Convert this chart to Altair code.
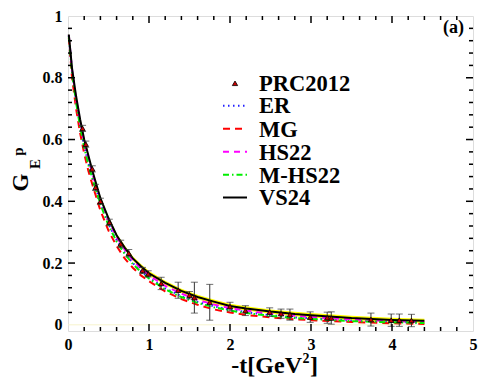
import altair as alt
import pandas as pd

FONT = "'Liberation Serif', 'Times New Roman', 'DejaVu Serif', serif"
W, H = 405, 315
TOP = 8

# ---- curve grid (-t in GeV^2) and model curves ----
t_grid = [0.01, 0.05, 0.1, 0.15, 0.2, 0.25, 0.3, 0.4, 0.5, 0.6, 0.7, 0.8, 0.9, 1.0,
          1.2, 1.4, 1.6, 1.8, 2.0, 2.2, 2.5, 2.8, 3.0, 3.5, 4.0, 4.4]
vs24 = [0.940, 0.830, 0.740, 0.665, 0.600, 0.550, 0.500, 0.410, 0.345, 0.290, 0.250, 0.215, 0.190, 0.167,
        0.136, 0.110, 0.090, 0.075, 0.061, 0.053, 0.043, 0.035, 0.031, 0.022, 0.016, 0.013]
vs24_lo = [0.936, 0.825, 0.734, 0.659, 0.594, 0.544, 0.494, 0.404, 0.339, 0.284, 0.243, 0.208, 0.183, 0.160,
           0.129, 0.103, 0.083, 0.068, 0.054, 0.046, 0.036, 0.028, 0.024, 0.015, 0.009, 0.006]
vs24_hi = [0.944, 0.835, 0.746, 0.671, 0.606, 0.556, 0.506, 0.416, 0.351, 0.296, 0.257, 0.222, 0.197, 0.174,
           0.143, 0.117, 0.097, 0.082, 0.068, 0.060, 0.050, 0.042, 0.038, 0.029, 0.023, 0.020]
er = [0.936, 0.820, 0.725, 0.645, 0.580, 0.525, 0.480, 0.395, 0.327, 0.274, 0.233, 0.200, 0.174, 0.152,
      0.118, 0.093, 0.074, 0.060, 0.049, 0.041, 0.031, 0.024, 0.021, 0.014, 0.009, 0.007]
mg = [0.930, 0.800, 0.700, 0.620, 0.555, 0.500, 0.455, 0.370, 0.305, 0.255, 0.215, 0.185, 0.160, 0.141,
      0.108, 0.083, 0.065, 0.050, 0.040, 0.032, 0.024, 0.018, 0.015, 0.009, 0.005, 0.003]
hs22 = [0.938, 0.825, 0.730, 0.655, 0.590, 0.538, 0.490, 0.402, 0.337, 0.284, 0.243, 0.209, 0.183, 0.160,
        0.126, 0.101, 0.081, 0.066, 0.054, 0.046, 0.036, 0.029, 0.025, 0.017, 0.012, 0.009]
mhs22 = [0.935, 0.815, 0.720, 0.640, 0.575, 0.520, 0.475, 0.390, 0.322, 0.270, 0.230, 0.197, 0.171, 0.150,
         0.115, 0.090, 0.071, 0.057, 0.046, 0.038, 0.029, 0.022, 0.019, 0.012, 0.008, 0.006]

# ---- PRC2012 data points ----
pt_t = [0.18, 0.22, 0.30, 0.34, 0.40, 0.51, 0.65, 0.75, 0.92, 0.99, 1.15, 1.36, 1.50, 1.56, 1.75,
        2.00, 2.19, 2.49, 2.63, 2.74, 2.99, 3.20, 3.25, 3.74, 3.99, 4.09, 4.24]
pt_v = [0.636, 0.585, 0.505, 0.445, 0.400, 0.332, 0.262, 0.232, 0.176, 0.165, 0.134, 0.112, 0.096, 0.088, 0.073,
        0.059, 0.046, 0.041, 0.036, 0.033, 0.025, 0.023, 0.022, 0.017, 0.015, 0.015, 0.014]
pt_err = [0.010, 0.010, 0.010, 0.010, 0.010, 0.010, 0.012, 0.012, 0.010, 0.010, 0.020, 0.026, 0.012, 0.050, 0.058,
          0.014, 0.016, 0.014, 0.015, 0.018, 0.017, 0.018, 0.020, 0.021, 0.020, 0.020, 0.020]

# ---- axes ----
x_major = [0, 1, 2, 3, 4, 5]
x_minor = [0.2, 0.4, 0.6, 0.8, 1.2, 1.4, 1.6, 1.8, 2.2, 2.4, 2.6, 2.8, 3.2, 3.4, 3.6, 3.8,
           4.2, 4.4, 4.6, 4.8]
y_major = [0, 0.2, 0.4, 0.6, 0.8, 1.0]
y_minor = [0.04, 0.08, 0.12, 0.16, 0.24, 0.28, 0.32, 0.36, 0.44, 0.48, 0.52, 0.56,
           0.64, 0.68, 0.72, 0.76, 0.84, 0.88, 0.92, 0.96]

legend_labels = ["PRC2012", "ER", "MG", "HS22", "M-HS22", "VS24"]

xs = alt.Scale(domain=[0, 5], nice=False, zero=False)
ys = alt.Scale(domain=[-0.02, 1], nice=False, zero=False)

curves = pd.DataFrame({"t": t_grid, "vs24": vs24, "lo": vs24_lo, "hi": vs24_hi,
                       "er": er, "mg": mg, "hs22": hs22, "mhs22": mhs22})
zero_df = pd.DataFrame({"t": [0.0], "t2": [4.4], "v": [0.0]})
pts = pd.DataFrame({"t": pt_t, "v": pt_v, "err": pt_err})
pts["lo"] = pts["v"] - pts["err"]
pts["hi"] = pts["v"] + pts["err"]

x_axis = alt.Axis(values=x_major, format="d", labelFont=FONT, labelFontWeight="bold",
                  labelFontSize=16, labelColor="black", ticks=False, domain=False, grid=False,
                  labelPadding=5, title=None, labelFlush=False, labelOverlap=False)
y_axis = alt.Axis(values=y_major,
                  labelExpr="datum.value == 0 ? '0' : (datum.value == 1 ? '1' : format(datum.value, '.1f'))",
                  labelFont=FONT, labelFontWeight="bold", labelFontSize=16, labelColor="black",
                  ticks=False, domain=False, grid=False, labelPadding=6, title=None,
                  labelFlush=False, labelOverlap=False)

X = alt.X("t:Q", scale=xs, axis=x_axis)

def Y(field):
    return alt.Y(f"{field}:Q", scale=ys, axis=y_axis)

zero_line = alt.Chart(zero_df).mark_rule(color="#f7f3cc", strokeWidth=1).encode(
    x=X, x2="t2:Q", y=Y("v"))

band = alt.Chart(curves).mark_area(color="#ffff00", opacity=1).encode(
    x=X, y=Y("lo"), y2="hi:Q")

def curve(field, color, dash, width=2.0):
    kw = dict(color=color, strokeWidth=width)
    if dash:
        kw["strokeDash"] = dash
    return alt.Chart(curves).mark_line(**kw).encode(x=X, y=Y(field))

l_er = curve("er", "#2222ff", [1.5, 3.5])
l_mg = curve("mg", "#ff0000", [7, 5])
l_hs = curve("hs22", "#ff00ff", [6, 5])
l_mh = curve("mhs22", "#00ee00", [6, 3, 1.5, 3])
l_vs = curve("vs24", "#000000", None, 2.0)

ebar = alt.Chart(pts).mark_rule(color="#333333", strokeWidth=1).encode(x=X, y=Y("lo"), y2="hi:Q")
cap_lo = alt.Chart(pts).mark_tick(color="#333333", orient="horizontal", size=7, thickness=1).encode(
    x=X, y=Y("lo"))
cap_hi = alt.Chart(pts).mark_tick(color="#333333", orient="horizontal", size=7, thickness=1).encode(
    x=X, y=Y("hi"))
points = alt.Chart(pts).mark_point(shape="triangle-up", filled=True, fill="#cc0000", stroke="black",
                                   strokeWidth=0.8, size=28, opacity=1).encode(x=X, y=Y("v"))

# inward ticks on all four sides
def xticks(vals, length):
    d = pd.DataFrame({"t": vals})
    b = alt.Chart(d).mark_rule(color="black", strokeWidth=1.5).encode(x=X, y=alt.value(H), y2=alt.value(H - length))
    t = alt.Chart(d).mark_rule(color="black", strokeWidth=1.5).encode(x=X, y=alt.value(0), y2=alt.value(length))
    return [b, t]

def yticks(vals, length):
    d = pd.DataFrame({"v": vals})
    l = alt.Chart(d).mark_rule(color="black", strokeWidth=1.5).encode(y=Y("v"), x=alt.value(0), x2=alt.value(length))
    r = alt.Chart(d).mark_rule(color="black", strokeWidth=1.5).encode(y=Y("v"), x=alt.value(W), x2=alt.value(W - length))
    return [l, r]

ticks = xticks(x_major[1:-1], 7) + xticks(x_minor, 4) + yticks(y_major[1:-1], 7) + yticks(y_minor, 4)

# ---- legend (positions in page pixels, converted to plot pixels) ----
one = alt.Data(values=[{}])
off = 8 + TOP
leg_text_y = [p - off for p in [90.7, 113.4, 136.5, 159.8, 182.6, 205.4]]
leg_sym_y = [p - off for p in [83.3, 105.7, 128.8, 151.7, 174.8, 197.5]]
leg = []
for lab, yy in zip(legend_labels, leg_text_y):
    leg.append(alt.Chart(one).mark_text(text=lab, font=FONT, fontWeight="bold", fontSize=22.5,
                                        align="left", baseline="alphabetic", color="black").encode(
        x=alt.value(191), y=alt.value(yy)))
leg.append(alt.Chart(one).mark_point(shape="triangle-up", filled=True, fill="#cc0000", stroke="black",
                                     strokeWidth=0.8, size=28, opacity=1).encode(
    x=alt.value(167), y=alt.value(leg_sym_y[0])))
styles = [("#2222ff", [1.5, 3.5]), ("#ff0000", [7, 5]), ("#ff00ff", [6, 5]),
          ("#00ee00", [6, 3, 1.5, 3]), ("#000000", None)]
for (col, dash), yy in zip(styles, leg_sym_y[1:]):
    kw = dict(color=col, strokeWidth=2)
    if dash:
        kw["strokeDash"] = dash
    leg.append(alt.Chart(one).mark_rule(**kw).encode(
        x=alt.value(155), x2=alt.value(179), y=alt.value(yy)))

# ---- titles ----
def txt(**kw):
    return alt.Chart(one).mark_text(font=FONT, fontWeight="bold", color="black", **kw)

titles = [
    txt(text="-t[GeV", fontSize=24, align="right", baseline="alphabetic").encode(x=alt.value(234), y=alt.value(373 - off)),
    txt(text="2", fontSize=14, align="left", baseline="alphabetic").encode(x=alt.value(234.5), y=alt.value(363 - off)),
    txt(text="]", fontSize=24, align="left", baseline="alphabetic").encode(x=alt.value(242), y=alt.value(373 - off)),
    txt(text="G", fontSize=23, angle=270, align="center", baseline="alphabetic").encode(x=alt.value(-40), y=alt.value(182.5 - off)),
    txt(text="E", fontSize=15, angle=270, align="center", baseline="alphabetic").encode(x=alt.value(-28), y=alt.value(164 - off)),
    txt(text="p", fontSize=15, angle=270, align="center", baseline="alphabetic").encode(x=alt.value(-45), y=alt.value(151.5 - off)),
    txt(text="(a)", fontSize=18, align="right", baseline="alphabetic").encode(x=alt.value(396), y=alt.value(17)),
]

chart = alt.layer(
    zero_line, band, l_er, l_mg, l_hs, l_mh, l_vs, ebar, cap_lo, cap_hi, points,
    *ticks, *leg, *titles
).properties(
    width=W, height=H,
    autosize=alt.AutoSizeParams(type="none"),
    padding={"left": 60, "top": TOP, "right": 5, "bottom": 46},
).configure_view(stroke="black", strokeWidth=2).configure(background="white")

chart.save("out.html", embed_options={"renderer": "svg", "actions": False})
